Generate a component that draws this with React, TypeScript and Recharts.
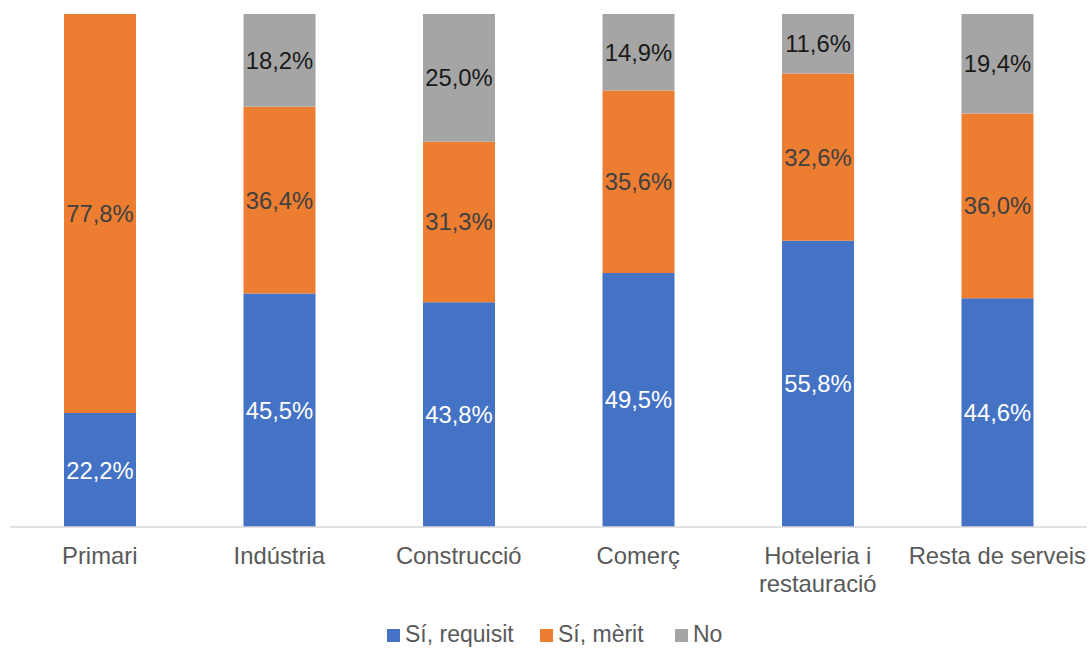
import React from 'react';
import { BarChart, Bar, XAxis, YAxis, LabelList } from 'recharts';

const categories = ['Primari', 'Indústria', 'Construcció', 'Comerç', 'Hoteleria i\nrestauració', 'Resta de serveis'];
const requisit = [22.2, 45.5, 43.8, 49.5, 55.8, 44.6];
const merit = [77.8, 36.4, 31.3, 35.6, 32.6, 36.0];
const no = [0, 18.2, 25.0, 14.9, 11.6, 19.4];

const data = categories.map((c, i) => ({
  name: c,
  requisit: requisit[i],
  merit: merit[i],
  no: no[i],
}));

const FONT = '"Liberation Sans", Arial, sans-serif';

const fmt = (v: any) => (Number(v) > 0 ? `${Number(v).toFixed(1).replace('.', ',')}%` : '');

const Tick = ({ x, y, payload }: any) => {
  const lines = String(payload.value).split('\n');
  return (
    <text x={x} y={y + 29} textAnchor="middle" fill="#595959" fontSize={23.8} fontFamily={FONT}>
      {lines.map((l, i) => (
        <tspan key={i} x={x} dy={i === 0 ? 0 : 27.5}>
          {l}
        </tspan>
      ))}
    </text>
  );
};

const legendItems = [
  { label: 'Sí, requisit', color: '#4472c4', x: 387 },
  { label: 'Sí, mèrit', color: '#ed7d31', x: 540 },
  { label: 'No', color: '#a5a5a5', x: 675 },
];

export default function App() {
  return (
    <div style={{ position: 'absolute', left: 0, top: 0, width: 1091, height: 648, background: '#fff' }}>
      <BarChart
        width={1091}
        height={648}
        data={data}
        margin={{ top: 14, right: 4, left: 10, bottom: 51 }}
        barSize={72}
      >
        <XAxis
          dataKey="name"
          tick={<Tick />}
          tickLine={false}
          axisLine={{ stroke: '#d9d9d9', strokeWidth: 1.5 }}
          height={70}
          interval={0}
        />
        <YAxis hide domain={[0, 100]} allowDataOverflow />
        <Bar dataKey="requisit" stackId="a" fill="#4472c4" isAnimationActive={false}>
          <LabelList dataKey="requisit" position="center" formatter={fmt} fill="#ffffff" fontSize={23.8} fontFamily={FONT} />
        </Bar>
        <Bar dataKey="merit" stackId="a" fill="#ed7d31" isAnimationActive={false}>
          <LabelList dataKey="merit" position="center" formatter={fmt} fill="#404040" fontSize={23.8} fontFamily={FONT} />
        </Bar>
        <Bar dataKey="no" stackId="a" fill="#a5a5a5" isAnimationActive={false}>
          <LabelList dataKey="no" position="center" formatter={fmt} fill="#1a1a1a" fontSize={23.8} fontFamily={FONT} />
        </Bar>
      </BarChart>
      <svg style={{ position: 'absolute', left: 0, top: 610 }} width={1091} height={38}>
        {legendItems.map((it) => (
          <g key={it.label}>
            <rect x={it.x} y={19} width={13} height={13} fill={it.color} />
            <text x={it.x + 18} y={32} fontSize={23} fontFamily={FONT} fill="#595959">
              {it.label}
            </text>
          </g>
        ))}
      </svg>
    </div>
  );
}
